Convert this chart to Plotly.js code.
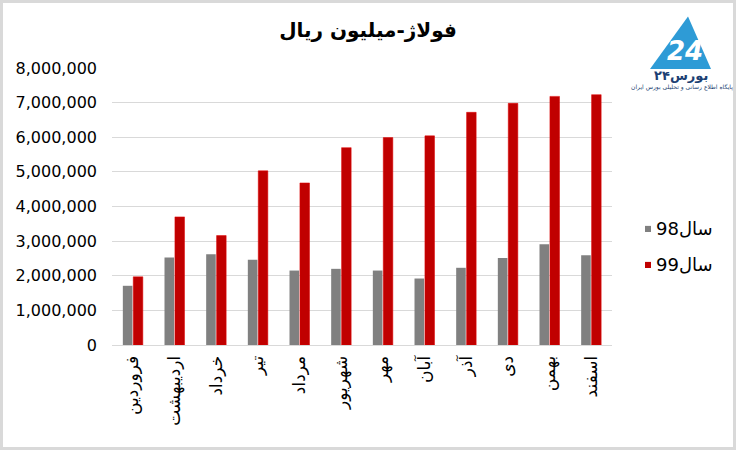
<!DOCTYPE html>
<html>
<head>
<meta charset="utf-8">
<script src="https://cdn.plot.ly/plotly-3.0.1.min.js"></script>
<style>
html,body{margin:0;padding:0;background:#fff;}
#wrap{width:736px;height:450px;box-sizing:border-box;border:3px solid #d9d9d9;background:#fff;}
#chart{width:730px;height:444px;}
</style>
</head>
<body>
<div id="wrap"><div id="chart"></div></div>
<script>
const months = ["فروردین","اردیبهشت","خرداد","تیر","مرداد","شهریور","مهر","آبان","آذر","دی","بهمن","اسفند"];
const sales98 = [1710000,2530000,2620000,2460000,2150000,2200000,2150000,1920000,2230000,2510000,2910000,2590000];
const sales99 = [1970000,3700000,3160000,5030000,4680000,5700000,5990000,6040000,6720000,6980000,7180000,7230000];
const seriesNames = ["سال98","سال99"];
const seriesColors = ["#808080","#c00000"];
const yTicks = [0,1000000,2000000,3000000,4000000,5000000,6000000,7000000,8000000];

const F = "DejaVu Sans, sans-serif";

const traces = [
  {type:"bar", x:months, y:sales98, name:seriesNames[0], marker:{color:seriesColors[0]}, showlegend:false},
  {type:"bar", x:months, y:sales99, name:seriesNames[1], marker:{color:seriesColors[1], line:{color:"#e00000", width:0.5}}, showlegend:false}
];

// legend built as decoration (paper coords)
const legY = [0.419, 0.289];
const shapes = [];
const annotations = [];
seriesNames.forEach((n,i)=>{
  shapes.push({type:"rect", xref:"paper", yref:"paper", x0:1.066, x1:1.078, y0:legY[i]-0.011, y1:legY[i]+0.011, fillcolor:seriesColors[i], line:{width:0}});
  annotations.push({xref:"paper", yref:"paper", x:1.083, y:legY[i], xanchor:"left", yanchor:"middle", text:n, showarrow:false, font:{family:F, size:18, color:"#000"}});
});

// logo approximation
shapes.push({type:"path", xref:"paper", yref:"paper",
  path:"M 1.076 0.996 L 1.152 1.186 L 1.198 0.996 Z", fillcolor:"#2e9bd6", line:{width:0}});
annotations.push({xref:"paper", yref:"paper", x:1.145, y:1.06, text:"<b><i>24</i></b>", showarrow:false, xanchor:"center", yanchor:"middle", font:{family:F, size:26, color:"#ffffff"}});
annotations.push({xref:"paper", yref:"paper", x:1.138, y:0.972, text:"<b>بورس۲۴</b>", showarrow:false, xanchor:"center", yanchor:"middle", font:{family:F, size:13, color:"#1c3f73"}});
annotations.push({xref:"paper", yref:"paper", x:1.14, y:0.93, text:"پایگاه اطلاع رسانی و تحلیلی بورس ایران", showarrow:false, xanchor:"center", yanchor:"middle", font:{family:F, size:6, color:"#1c3f73"}});

const layout = {
  width:730, height:444,
  margin:{l:109, r:121, t:65, b:102, pad:0},
  paper_bgcolor:"#fff", plot_bgcolor:"#fff",
  title:{text:"<b>فولاژ-میلیون ریال</b>", font:{family:F, size:20, color:"#000"}, x:365/730, xref:"container", xanchor:"center", y:1-27/444, yref:"container", yanchor:"middle"},
  barmode:"group", bargap:0.5, bargroupgap:0.08,
  font:{family:F, size:16, color:"#000"},
  xaxis:{tickangle:-90, showgrid:false, showline:true, linecolor:"#d9d9d9", linewidth:1, ticks:"", ticklabelstandoff:3, tickfont:{family:F, size:17, color:"#000"}, automargin:false},
  yaxis:{range:[0,8000000], tickvals:yTicks, tickformat:",d", showgrid:true, gridcolor:"#d9d9d9", gridwidth:1, zeroline:false, showline:false, ticks:"", ticklabelstandoff:14, tickfont:{family:F, size:16, color:"#000"}, automargin:false},
  shapes:shapes, annotations:annotations,
  showlegend:false
};

Plotly.newPlot("chart", traces, layout, {displayModeBar:false, staticPlot:true});
</script>
</body>
</html>
